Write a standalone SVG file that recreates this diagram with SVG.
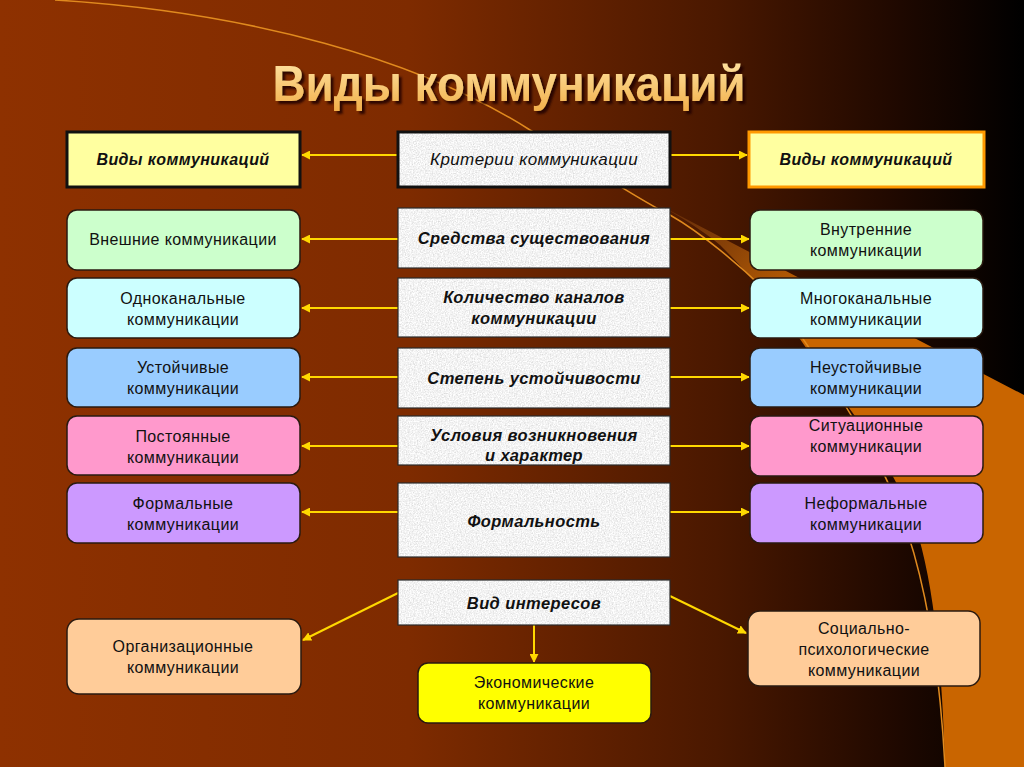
<svg xmlns="http://www.w3.org/2000/svg" width="1024" height="767" viewBox="0 0 1024 767">
<defs>
  <linearGradient id="bg" x1="0" y1="0" x2="1" y2="0">
    <stop offset="0" stop-color="#8E3100"/>
    <stop offset="0.4" stop-color="#7E2B00"/>
    <stop offset="0.7" stop-color="#4A1800"/>
    <stop offset="0.88" stop-color="#1E0800"/>
    <stop offset="1" stop-color="#000000"/>
  </linearGradient>
  <linearGradient id="band" gradientUnits="userSpaceOnUse" x1="680" y1="215" x2="800" y2="330">
    <stop offset="0" stop-color="#7A3A0C" stop-opacity="0.7"/>
    <stop offset="0.5" stop-color="#9A4C06"/>
    <stop offset="1" stop-color="#C96500"/>
  </linearGradient>
  <linearGradient id="titleg" x1="0" y1="0" x2="0" y2="1">
    <stop offset="0" stop-color="#FFE7A8"/>
    <stop offset="1" stop-color="#F2AE48"/>
  </linearGradient>
  <filter id="shadow" x="-5%" y="-20%" width="110%" height="150%">
    <feDropShadow dx="3" dy="3" stdDeviation="1" flood-color="#1E0600" flood-opacity="0.85"/>
  </filter>
  <filter id="granite" x="0" y="0" width="1" height="1">
    <feTurbulence type="fractalNoise" baseFrequency="0.75" numOctaves="3" seed="4" result="n"/>
    <feColorMatrix in="n" type="matrix" values="0.55 0 0 0 0.62  0.55 0 0 0 0.62  0.55 0 0 0 0.62  0 0 0 0 1" result="g"/>
    <feComposite in="g" in2="SourceGraphic" operator="in"/>
  </filter>
  <marker id="ah" viewBox="0 0 10 10" refX="9" refY="5" markerWidth="9" markerHeight="9" markerUnits="userSpaceOnUse" orient="auto">
    <path d="M0,0 L10,5 L0,10 z" fill="#FFD800"/>
  </marker>
  <style>
    .conn{stroke:#FFD800;stroke-width:2;fill:none;marker-end:url(#ah)}
    .crit{fill:#EEEEEE;filter:url(#granite)}
    .critb{fill:none;stroke:#2a2a2a;stroke-width:1.2}
    .node{stroke:#2a1a10;stroke-width:1.5}
    .t{font-family:"Liberation Sans",Arial,sans-serif;font-size:16px;fill:#111;text-anchor:middle;letter-spacing:0.4px}
    .ct{font-family:"Liberation Sans",Arial,sans-serif;font-size:16.5px;font-weight:bold;font-style:italic;fill:#111;text-anchor:middle;letter-spacing:0.4px}
  </style>
</defs>

<rect width="1024" height="767" fill="url(#bg)"/>
<path d="M640,195 L1024,395 L1024,767 L945,767 C943,680 935,585 915,525 C895,470 860,420 820,370 C790,320 760,285 720,245 C700,228 670,210 640,195 z" fill="url(#band)"/>
<path d="M55,0 C250,12 420,60 530,130 C580,160 630,195 670,215 C700,232 740,265 770,295 C800,330 830,380 860,430 C900,495 935,580 945,767" fill="none" stroke="#E08A1E" stroke-width="1.5"/>

<g id="title">
  <text x="509" y="101" font-family="Liberation Sans,Arial,sans-serif" font-size="50" font-weight="bold" text-anchor="middle" fill="url(#titleg)" filter="url(#shadow)" textLength="473" lengthAdjust="spacingAndGlyphs">Виды коммуникаций</text>
</g>

<g id="connectors">
  <line class="conn" x1="398" y1="155" x2="302" y2="155"/>
  <line class="conn" x1="670" y1="155" x2="747" y2="155"/>
  <line class="conn" x1="398" y1="239" x2="302" y2="239"/>
  <line class="conn" x1="670" y1="239" x2="749" y2="239"/>
  <line class="conn" x1="398" y1="308" x2="302" y2="308"/>
  <line class="conn" x1="670" y1="308" x2="749" y2="308"/>
  <line class="conn" x1="398" y1="377" x2="302" y2="377"/>
  <line class="conn" x1="670" y1="377" x2="749" y2="377"/>
  <line class="conn" x1="398" y1="446" x2="302" y2="446"/>
  <line class="conn" x1="670" y1="446" x2="749" y2="446"/>
  <line class="conn" x1="398" y1="512" x2="302" y2="512"/>
  <line class="conn" x1="670" y1="512" x2="749" y2="512"/>
  <line class="conn" x1="398" y1="593" x2="303" y2="640"/>
  <line class="conn" x1="670" y1="596" x2="746" y2="633"/>
  <line class="conn" x1="534" y1="625" x2="534" y2="662"/>
</g>

<g id="n-vidy-left">
  <rect x="67" y="132" width="233" height="55" fill="#FFFFA0" stroke="#111" stroke-width="3"/>
  <text class="ct" x="183" y="165" style="font-size:16px">Виды коммуникаций</text>
</g>
<g id="n-kriterii">
  <rect class="crit" x="398" y="132" width="272" height="55"/>
  <rect x="398" y="132" width="272" height="55" fill="none" stroke="#111" stroke-width="3"/>
  <text class="ct" x="534" y="165" style="font-weight:normal;font-size:17px">Критерии коммуникации</text>
</g>
<g id="n-vidy-right">
  <rect x="749" y="132" width="235" height="55" fill="#FFFFA0" stroke="#FF9900" stroke-width="3"/>
  <text class="ct" x="866" y="165" style="font-size:16px">Виды коммуникаций</text>
</g>

<g id="n-sredstva">
  <rect class="crit" x="398" y="208" width="272" height="60"/>
  <rect class="critb" x="398" y="208" width="272" height="60"/>
  <text class="ct" x="534" y="244">Средства существования</text>
</g>
<g id="n-vneshnie">
  <rect class="node" x="67" y="210" width="233" height="60" rx="10" fill="#CCFFCC"/>
  <text class="t" x="183" y="245">Внешние коммуникации</text>
</g>
<g id="n-vnutrennie">
  <rect class="node" x="750" y="210" width="233" height="60" rx="10" fill="#CCFFCC"/>
  <text class="t" x="866" y="235">Внутренние</text>
  <text class="t" x="866" y="256">коммуникации</text>
</g>

<g id="n-kolichestvo">
  <rect class="crit" x="398" y="278" width="272" height="59"/>
  <rect class="critb" x="398" y="278" width="272" height="59"/>
  <text class="ct" x="534" y="303">Количество каналов</text>
  <text class="ct" x="534" y="324">коммуникации</text>
</g>
<g id="n-odnokanal">
  <rect class="node" x="67" y="278" width="233" height="60" rx="10" fill="#CCFFFF"/>
  <text class="t" x="183" y="304">Одноканальные</text>
  <text class="t" x="183" y="325">коммуникации</text>
</g>
<g id="n-mnogokanal">
  <rect class="node" x="750" y="278" width="233" height="60" rx="10" fill="#CCFFFF"/>
  <text class="t" x="866" y="304">Многоканальные</text>
  <text class="t" x="866" y="325">коммуникации</text>
</g>

<g id="n-stepen">
  <rect class="crit" x="398" y="348" width="272" height="60"/>
  <rect class="critb" x="398" y="348" width="272" height="60"/>
  <text class="ct" x="534" y="384">Степень устойчивости</text>
</g>
<g id="n-ustoich">
  <rect class="node" x="67" y="348" width="233" height="59" rx="10" fill="#99CCFF"/>
  <text class="t" x="183" y="373">Устойчивые</text>
  <text class="t" x="183" y="394">коммуникации</text>
</g>
<g id="n-neustoich">
  <rect class="node" x="750" y="348" width="233" height="59" rx="10" fill="#99CCFF"/>
  <text class="t" x="866" y="373">Неустойчивые</text>
  <text class="t" x="866" y="394">коммуникации</text>
</g>

<g id="n-usloviya">
  <rect class="crit" x="398" y="416" width="272" height="49"/>
  <rect class="critb" x="398" y="416" width="272" height="49"/>
  <text class="ct" x="534" y="441">Условия возникновения</text>
  <text class="ct" x="534" y="461">и характер</text>
</g>
<g id="n-postoyan">
  <rect class="node" x="67" y="416" width="233" height="59" rx="10" fill="#FF99CC"/>
  <text class="t" x="183" y="442">Постоянные</text>
  <text class="t" x="183" y="463">коммуникации</text>
</g>
<g id="n-situac">
  <rect class="node" x="750" y="416" width="233" height="60" rx="10" fill="#FF99CC"/>
  <text class="t" x="866" y="431">Ситуационные</text>
  <text class="t" x="866" y="452">коммуникации</text>
</g>

<g id="n-formalnost">
  <rect class="crit" x="398" y="483" width="272" height="74"/>
  <rect class="critb" x="398" y="483" width="272" height="74"/>
  <text class="ct" x="534" y="527">Формальность</text>
</g>
<g id="n-formal">
  <rect class="node" x="67" y="483" width="233" height="60" rx="10" fill="#CC99FF"/>
  <text class="t" x="183" y="509">Формальные</text>
  <text class="t" x="183" y="530">коммуникации</text>
</g>
<g id="n-neformal">
  <rect class="node" x="750" y="483" width="233" height="60" rx="10" fill="#CC99FF"/>
  <text class="t" x="866" y="509">Неформальные</text>
  <text class="t" x="866" y="530">коммуникации</text>
</g>

<g id="n-vid-interesov">
  <rect class="crit" x="398" y="580" width="272" height="45"/>
  <rect class="critb" x="398" y="580" width="272" height="45"/>
  <text class="ct" x="534" y="609">Вид интересов</text>
</g>
<g id="n-organiz">
  <rect class="node" x="67" y="619" width="234" height="75" rx="12" fill="#FFCC99"/>
  <text class="t" x="183" y="652">Организационные</text>
  <text class="t" x="183" y="673">коммуникации</text>
</g>
<g id="n-ekonom">
  <rect class="node" x="418" y="663" width="233" height="60" rx="10" fill="#FFFF00"/>
  <text class="t" x="534" y="688">Экономические</text>
  <text class="t" x="534" y="709">коммуникации</text>
</g>
<g id="n-socpsy">
  <rect class="node" x="748" y="611" width="232" height="75" rx="12" fill="#FFCC99"/>
  <text class="t" x="864" y="634">Социально-</text>
  <text class="t" x="864" y="655">психологические</text>
  <text class="t" x="864" y="676">коммуникации</text>
</g>
</svg>
